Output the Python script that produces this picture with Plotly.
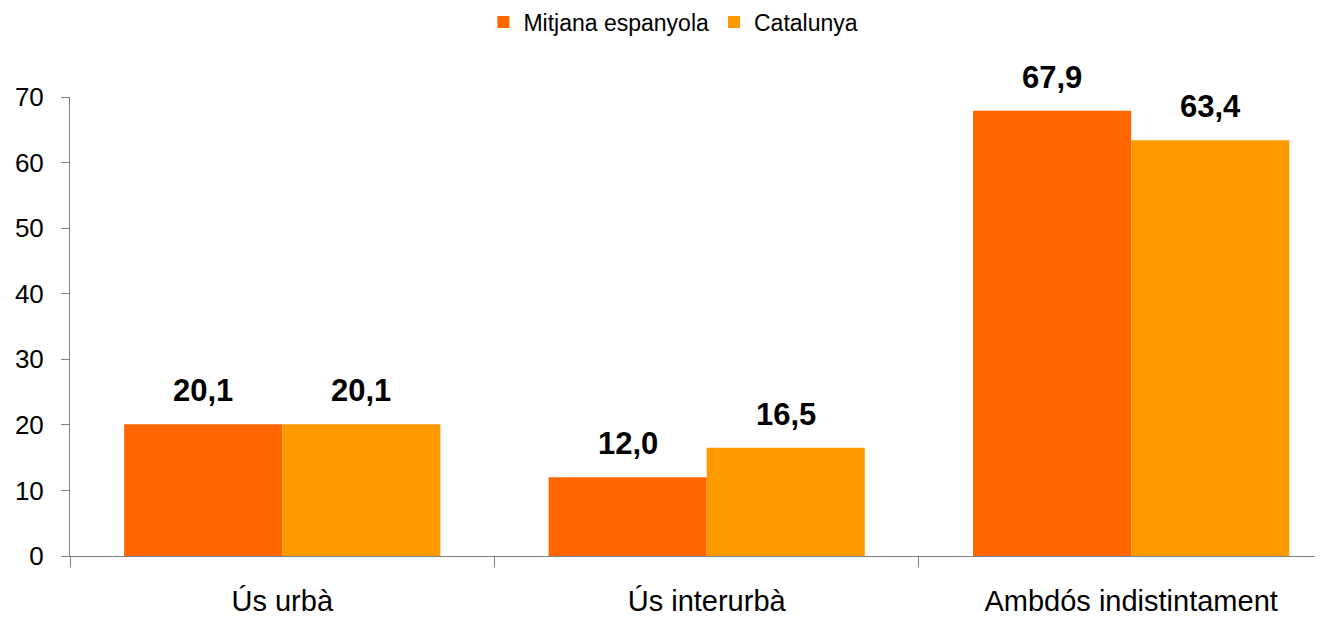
import plotly.graph_objects as go

categories = ["Ús urbà", "Ús interurbà", "Ambdós indistintament"]
series_names = ["Mitjana espanyola", "Catalunya"]
mitjana = [20.1, 12.0, 67.9]
catalunya = [20.1, 16.5, 63.4]
colors = ["#FF6600", "#FF9900"]
y_ticks = [0, 10, 20, 30, 40, 50, 60, 70]

FONT = "Liberation Sans, Arial, sans-serif"
bargap = 0.255
bar_w = (1 - bargap) / 2

fig = go.Figure()
for name, vals, col in zip(series_names, [mitjana, catalunya], colors):
    fig.add_trace(go.Bar(x=categories, y=vals, name=name, marker_color=col,
                         marker_line_width=0))

annotations = []
for s, vals in enumerate([mitjana, catalunya]):
    off = (s - 0.5) * bar_w
    for i, v in enumerate(vals):
        annotations.append(dict(
            x=i + off, y=v, xref="x", yref="y",
            text=f"{v:.1f}".replace(".", ","),
            showarrow=False, yanchor="bottom", yshift=14,
            font=dict(family=FONT, size=31, color="#000000", weight="bold"),
        ))

fig.update_layout(
    width=1315, height=610,
    margin=dict(l=62, r=0, t=89, b=62),
    paper_bgcolor="white", plot_bgcolor="white",
    barmode="group", bargap=bargap, bargroupgap=0,
    font=dict(family=FONT, color="#000000"),
    showlegend=True,
    legend=dict(orientation="h", x=0.506, xref="container", xanchor="center",
                y=0.977, yref="container", yanchor="middle",
                font=dict(size=23, family=FONT), itemwidth=30,
                traceorder="normal"),
    annotations=annotations,
)
fig.update_xaxes(
    type="category", range=[-0.5, 2.452],
    showline=True, linecolor="#808080", linewidth=1,
    ticks="outside", tickson="boundaries", ticklen=10, tickcolor="#808080",
    tickfont=dict(size=29, family=FONT), ticklabelstandoff=19,
    showgrid=False, zeroline=False,
)
fig.update_yaxes(
    range=[0, 70], tickvals=y_ticks,
    showline=True, linecolor="#808080", linewidth=1,
    ticks="outside", ticklen=8, tickcolor="#808080",
    tickfont=dict(size=26, family=FONT), ticklabelstandoff=12,
    showgrid=False, zeroline=False,
)
fig.write_html("out.html")
